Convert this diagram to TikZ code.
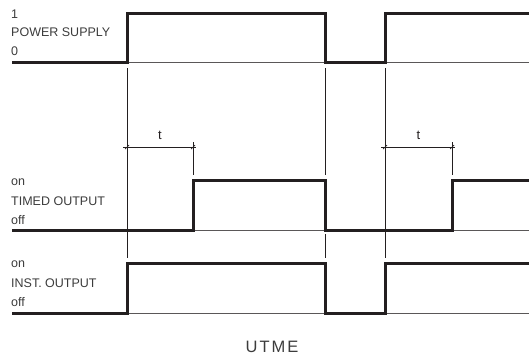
\documentclass[tikz,border=0pt]{standalone}
\usepackage{fontspec}
\setmainfont{Liberation Sans}
\usetikzlibrary{positioning}
\definecolor{ink}{RGB}{35,31,32}
\definecolor{lbl}{RGB}{60,60,60}

\begin{document}
\begin{tikzpicture}[x=1pt,y=-1pt,font=\fontsize{12.5}{14}\selectfont,
  sig/.style={line width=3pt,draw=ink,line join=miter},
  base/.style={line width=0.9pt,draw=ink!75},
  guide/.style={line width=0.9pt,draw=ink},
  lab/.style={anchor=west,text=lbl,inner sep=0pt}]
 \useasboundingbox (0,0) rectangle (529,360);
 % labels
 \node[lab] (ps1) at (11,14) {1};
 \node[lab] (psn) at (11,32) {POWER SUPPLY};
 \node[lab] (ps0) at (11,51) {0};
 \node[lab] (to1) at (11,182) {on};
 \node[lab] (ton) at (11,201) {TIMED OUTPUT};
 \node[lab] (to0) at (11,220) {off};
 \node[lab] (io1) at (11,264) {on};
 \node[lab] (ion) at (11,283) {INST. OUTPUT};
 \node[lab] (io0) at (11,302) {off};
 \node[text=lbl,font=\fontsize{16.5}{18}\selectfont] (utme) at (272,347) {U\kern2pt T\kern2pt M\kern2pt E};
 % baselines
 \draw[base] (127,62) -- (529,62);
 \draw[base] (193,230) -- (529,230);
 \draw[base] (127,313) -- (529,313);
 % signals
 \draw[sig] (12,62) -- (127,62) -- (127,13) -- (325,13) -- (325,62) -- (385,62) -- (385,13) -- (529,13);
 \draw[sig] (12,230) -- (193,230) -- (193,180) -- (325,180) -- (325,230) -- (452,230) -- (452,180) -- (529,180);
 \draw[sig] (12,313) -- (127,313) -- (127,263) -- (325,263) -- (325,313) -- (385,313) -- (385,263) -- (529,263);
 % guide lines
 \draw[guide] (127,68) -- (127,258);
 \draw[guide] (325,68) -- (325,175) (325,234) -- (325,258);
 \draw[guide] (385,68) -- (385,258);
 \draw[guide] (193,142) -- (193,175);
 \draw[guide] (452,142) -- (452,175);
 % delay t
 \foreach \a/\b in {127/193,385/452}{
  \draw[guide,line width=0.7pt] (\a-4,147) -- (\b+3,147);
  \draw[guide,line width=0.7pt] (\a-2,149) -- (\a+2,145) (\b-2,149) -- (\b+2,145);
  \node[text=ink,font=\fontsize{13}{14}\selectfont] at ({(\a+\b)/2},135) {t};
 }
\end{tikzpicture}
\end{document}
